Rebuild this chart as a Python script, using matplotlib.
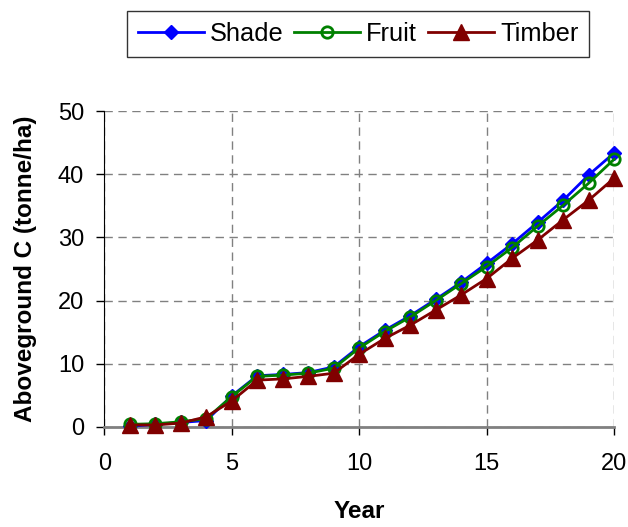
import matplotlib
matplotlib.use("Agg")
import matplotlib.pyplot as plt

plt.rcParams['font.family'] = ['Liberation Sans', 'DejaVu Sans']

years = list(range(1, 21))
shade = [0.1, 0.4, 0.7, 1.0, 4.9, 8.1, 8.3, 8.6, 9.5, 12.7, 15.3, 17.6, 20.2, 22.9, 25.9, 29.0, 32.4, 35.9, 39.9, 43.4]
fruit = [0.4, 0.5, 0.8, 1.3, 4.8, 8.0, 8.2, 8.5, 9.3, 12.5, 15.1, 17.4, 20.0, 22.7, 25.4, 28.4, 31.8, 35.1, 38.6, 42.4]
timber = [0.3, 0.3, 0.6, 1.6, 4.1, 7.4, 7.6, 8.0, 8.5, 11.5, 14.0, 16.1, 18.5, 20.9, 23.5, 26.7, 29.6, 32.8, 35.9, 39.4]

x_ticks = [0, 5, 10, 15, 20]
y_ticks = [0, 10, 20, 30, 40, 50]

FS = 17

fig = plt.figure(figsize=(6.28, 5.27), dpi=100)
ax = fig.add_axes([0.166, 0.190, 0.812, 0.599])

ax.plot(years, shade, color='#0000FF', marker='D', markersize=7.5, linewidth=2, label='Shade', clip_on=False, zorder=3)
ax.plot(years, fruit, color='#008000', marker='o', markersize=8.2, markerfacecolor='none',
        markeredgewidth=2, linewidth=2, label='Fruit', clip_on=False, zorder=4)
ax.plot(years, timber, color='#800000', marker='^', markersize=11.5, linewidth=2, label='Timber', clip_on=False, zorder=5)

ax.set_xlim(0, 20)
ax.set_ylim(0, 50)
ax.set_xticks(x_ticks)
ax.set_yticks(y_ticks)
ax.tick_params(axis='both', labelsize=FS, direction='out', length=5.5, width=1, colors='black')
ax.tick_params(axis='x', pad=13)
ax.tick_params(axis='y', pad=9)

ax.grid(True, color='#808080', linestyle=(0, (6, 4)), linewidth=1)
ax.set_axisbelow(True)
for s in ['top', 'right']:
    ax.spines[s].set_visible(False)
ax.spines['left'].set_color('black')
ax.spines['bottom'].set_color('#808080')
ax.spines['bottom'].set_linewidth(2)

ax.set_xlabel('Year', fontsize=17.5, fontweight='bold', labelpad=18)
ax.set_ylabel('Aboveground C (tonne/ha)', fontsize=17.5, fontweight='bold', labelpad=15)

leg = fig.legend(loc='center', bbox_to_anchor=(358 / 628, 1 - 34 / 527), ncol=3,
                 fontsize=18.3, frameon=True, fancybox=False, edgecolor='black',
                 handlelength=2.6, handletextpad=0.23, columnspacing=0.43,
                 borderpad=0.42, borderaxespad=0)
leg.get_frame().set_linewidth(1)

fig.savefig('out.png', dpi=100)
